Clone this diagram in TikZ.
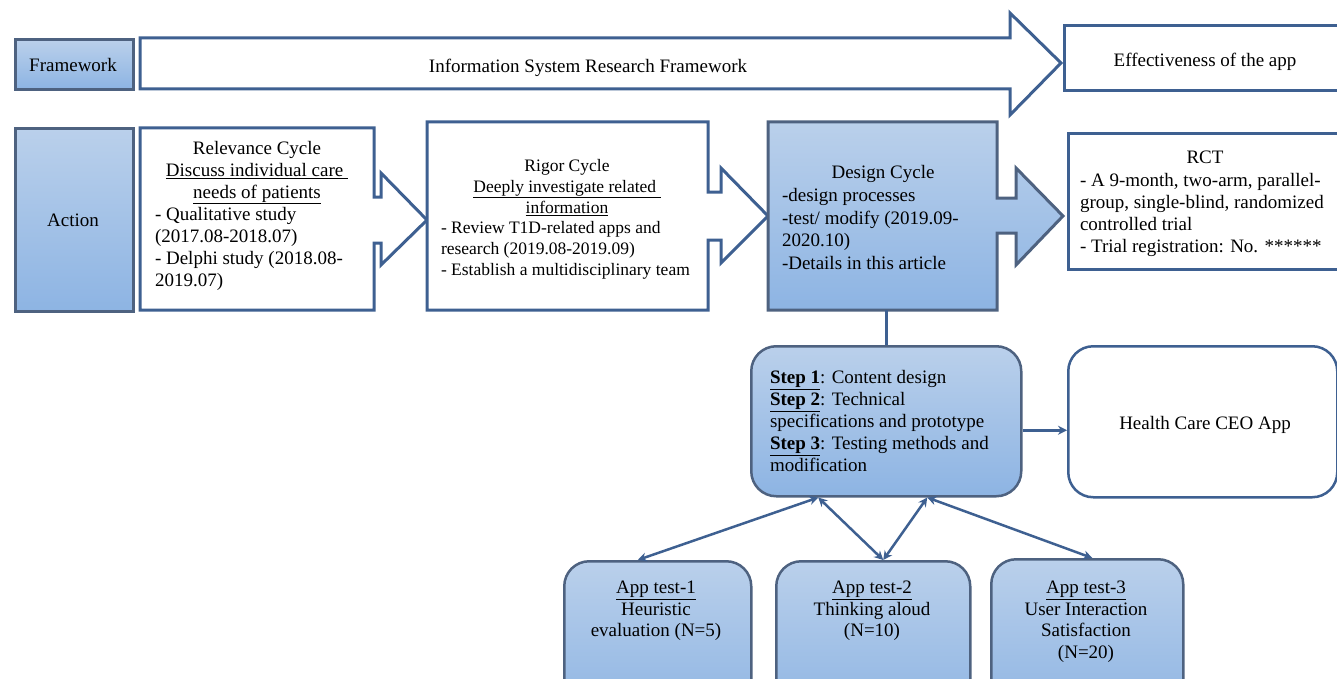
\documentclass[tikz,border=0pt]{standalone}
\usepackage{fontspec}
\setmainfont{Liberation Serif}
\usetikzlibrary{arrows.meta}
\definecolor{bstroke}{RGB}{62,96,145}
\definecolor{gborder}{RGB}{78,98,128}
\definecolor{gtop}{RGB}{186,208,235}
\definecolor{gbot}{RGB}{141,180,227}
\tikzset{
  whitebox/.style={draw=bstroke, line width=3pt, fill=white},
  filledbox/.style={draw=gborder, line width=3pt, top color=gtop, bottom color=gbot},
  roundbox/.style={draw=gborder, line width=2.5pt, rounded corners=25pt, top color=gtop, bottom color=gbot},
  roundwhite/.style={draw=bstroke, line width=2.5pt, rounded corners=25pt, fill=white},
  lbl/.style={inner sep=0pt, outer sep=0pt},
  ctr/.style={lbl, align=center, anchor=north},
  lft/.style={lbl, align=left, anchor=north west},
  conn/.style={draw=bstroke, line width=3pt},
  dconn/.style={draw=bstroke, line width=2.5pt, {Stealth[length=9pt,width=9pt]}-{Stealth[length=9pt,width=9pt]}},
}
\begin{document}
\begin{tikzpicture}[x=1pt, y=-1pt, font=\fontsize{19}{22}\selectfont]
\useasboundingbox (0,0) rectangle (1337,679);
\clip (0,0) rectangle (1337,679);
% top row
\node[filledbox, anchor=north west, minimum width=118pt, minimum height=50pt] (fw) at (14,38) {};
\node[lbl] (fwtxt) at (73,65) {Framework};
\path[whitebox] (140,38) -- (1010,38) -- (1010,13) -- (1061,63) -- (1010,115) -- (1010,89) -- (140,89) -- cycle;
\node[lbl] (isrf) at (588,67.5) {Information System Research Framework};
\node[whitebox, anchor=north west, minimum width=285pt, minimum height=65pt] (eff) at (1063,24) {};
\node[lbl] (efftxt) at (1205,61.5) {Effectiveness of the app};
% action row
\node[filledbox, anchor=north west, minimum width=118pt, minimum height=183pt] (act) at (14,127) {};
\node[lbl] (acttxt) at (73,220.5) {Action};
\path[whitebox] (140,128) -- (374,128) -- (374,197) -- (381,197) -- (381,173) -- (427,220) -- (381,265) -- (381,243) -- (374,243) -- (374,310) -- (140,310) -- cycle;
\node[ctr] (relh) at (257,141) {Relevance Cycle\\\underline{Discuss individual care\ }\\\underline{needs of patients}};
\node[lft] (rell) at (155,207) {- Qualitative study\\(2017.08-2018.07)\\- Delphi study (2018.08-\\2019.07)};
\path[whitebox] (427,122) -- (708,122) -- (708,192) -- (721,192) -- (721,168) -- (768,216) -- (721,263) -- (721,240) -- (708,240) -- (708,310) -- (427,310) -- cycle;
\node[ctr, font=\fontsize{17.5}{20.8}\selectfont] (righ) at (567,159.5) {Rigor Cycle\\\underline{Deeply investigate related\ }\\\underline{information}};
\node[lft, font=\fontsize{17.5}{20.8}\selectfont] (rigl) at (441,221.5) {- Review T1D-related apps and\\research (2019.08-2019.09)\\- Establish a multidisciplinary team};
\path[filledbox] (768,122) -- (997,122) -- (997,198) -- (1016,198) -- (1016,168) -- (1063,216) -- (1016,265) -- (1016,233) -- (997,233) -- (997,310) -- (768,310) -- cycle;
\node[ctr] (desh) at (883,165.5) {Design Cycle};
\node[lft, font=\fontsize{19}{22.5}\selectfont] (desl) at (782,188.5) {-design processes\\-test/ modify (2019.09-\\2020.10)\\-Details in this article};
\coordinate (desb) at (886,310);
\node[whitebox, anchor=north west, minimum width=285pt, minimum height=136pt] (rct) at (1067,132) {};
\node[ctr] (rcth) at (1205,151) {RCT};
\node[lft] (rctl) at (1080,173) {- A 9-month, two-arm, parallel-\\group, single-blind, randomized\\controlled trial\\- Trial registration: No. ******};
% steps
\node[roundbox, anchor=north west, minimum width=270pt, minimum height=150pt] (steps) at (750,345) {};
\node[lft] (stepl) at (770,370.5) {\underline{\textbf{Step 1}}: Content design\\\underline{\textbf{Step 2}}: Technical\\specifications and prototype\\\underline{\textbf{Step 3}}: Testing methods and\\modification};
\node[roundwhite, anchor=north west, minimum width=269pt, minimum height=151pt] (hc) at (1067,345) {};
\node[lbl] (hctxt) at (1205,424.5) {Health Care CEO App};
\draw[conn] (desb) -- (desb |- steps.north);
\draw[conn, -{Stealth[length=9pt,width=9pt]}] ([yshift=-9pt]steps.east) -- ([yshift=-9pt]steps.east -| hc.west);
% tests
\node[roundbox, anchor=north west, minimum width=187pt, minimum height=160pt] (t1) at (563,560) {};
\node[roundbox, anchor=north west, minimum width=194pt, minimum height=160pt] (t2) at (775,560) {};
\node[roundbox, anchor=north west, minimum width=192pt, minimum height=162pt] (t3) at (990,558) {};
\node[ctr, font=\fontsize{19}{21.5}\selectfont] (t1txt) at (656,581) {\underline{App test-1}\\Heuristic\\evaluation (N=5)};
\node[ctr, font=\fontsize{19}{21.5}\selectfont] (t2txt) at (872,581) {\underline{App test-2}\\Thinking aloud\\(N=10)};
\node[ctr, font=\fontsize{19}{21.5}\selectfont] (t3txt) at (1086,581) {\underline{App test-3}\\User Interaction\\Satisfaction\\(N=20)};
\coordinate (sa) at ([xshift=-68pt]steps.south);
\coordinate (sb) at ([xshift=41pt]steps.south);
\draw[dconn] (sa) -- ([xshift=-20pt]t1.north);
\draw[dconn] (sa) -- ([xshift=10pt]t2.north);
\draw[dconn] (sb) -- ([xshift=10pt]t2.north);
\draw[dconn] (sb) -- ([xshift=5pt]t3.north);
\end{tikzpicture}
\end{document}
